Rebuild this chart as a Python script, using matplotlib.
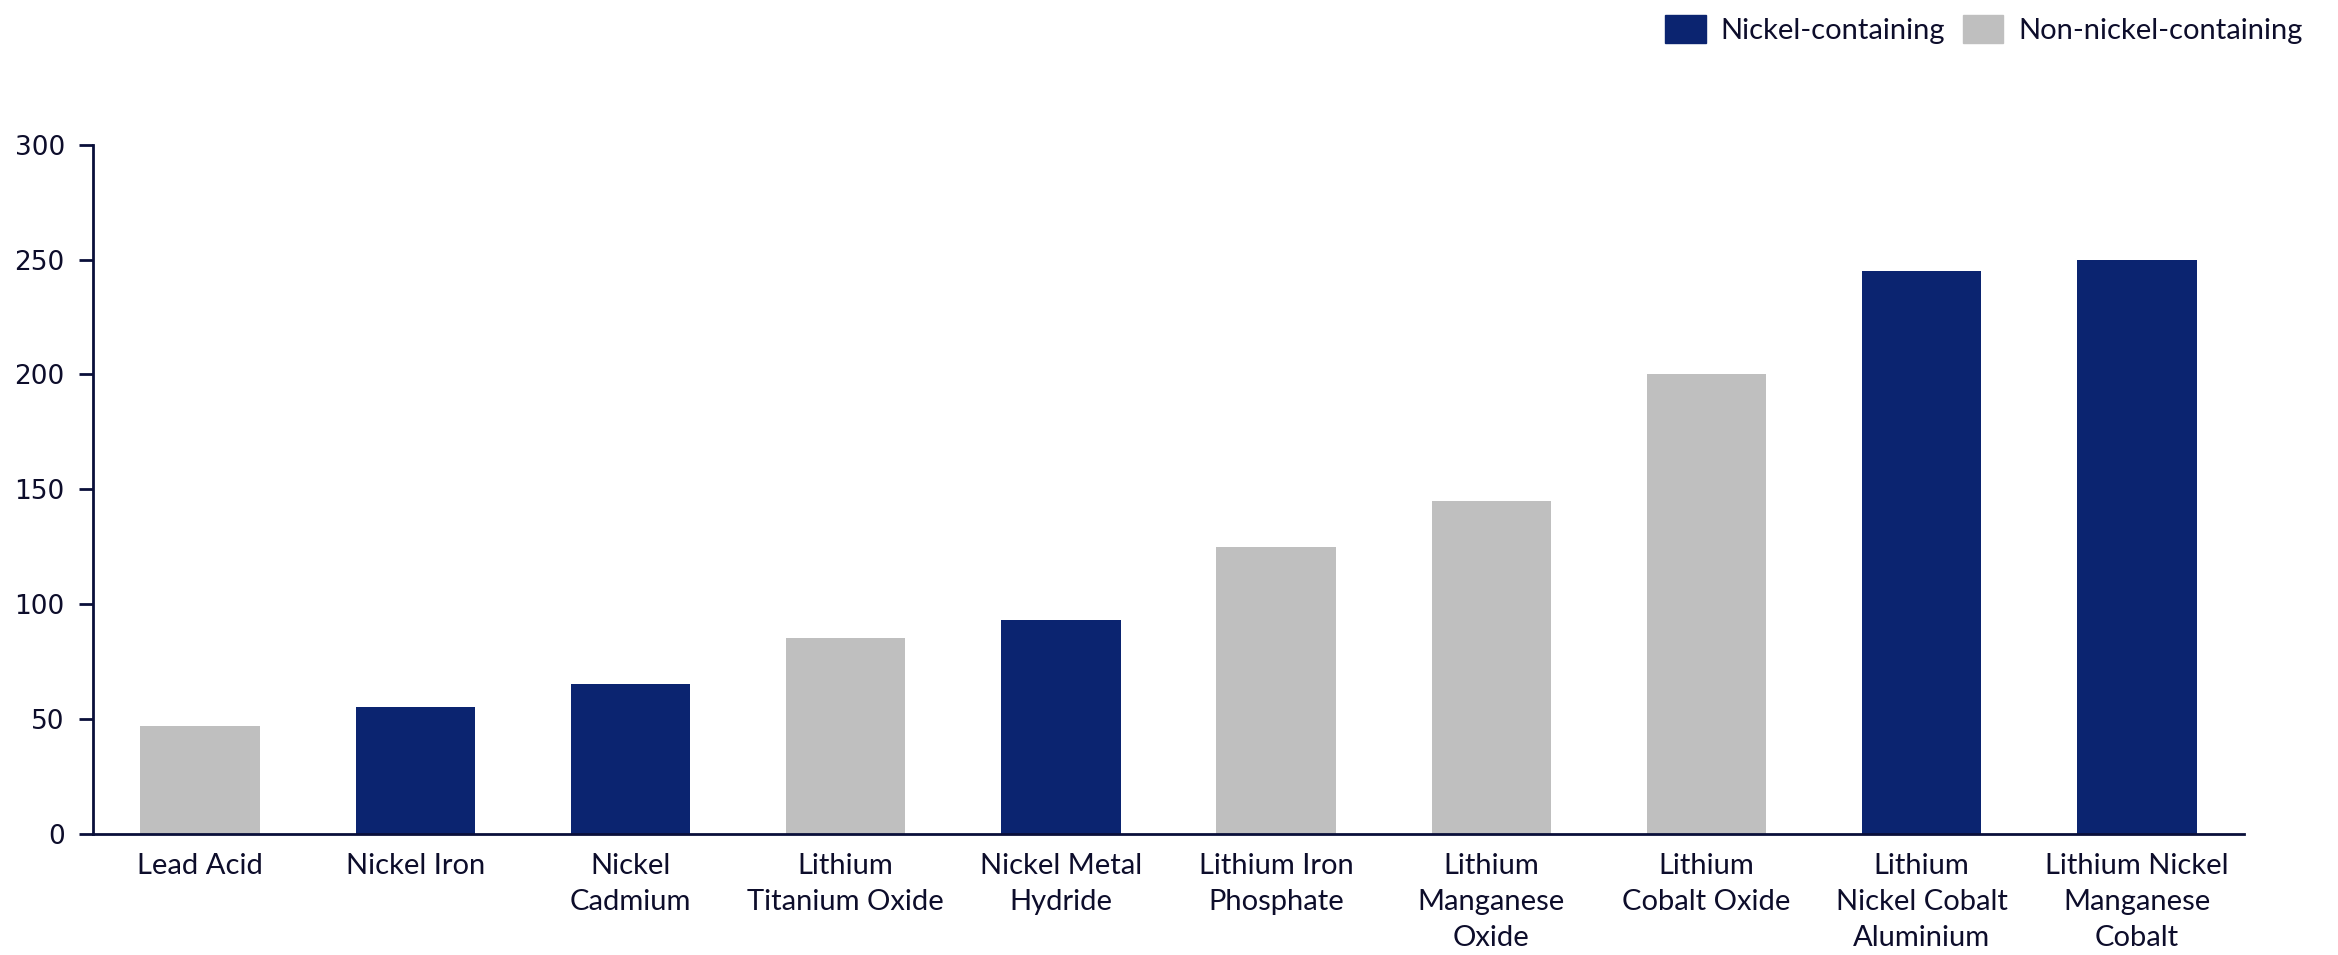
import matplotlib
matplotlib.use("Agg")
import matplotlib.pyplot as plt
from matplotlib.patches import Patch

categories = [
    "Lead Acid", "Nickel Iron", "Nickel\nCadmium", "Lithium\nTitanium Oxide",
    "Nickel Metal\nHydride", "Lithium Iron\nPhosphate", "Lithium\nManganese\nOxide",
    "Lithium\nCobalt Oxide", "Lithium\nNickel Cobalt\nAluminium",
    "Lithium Nickel\nManganese\nCobalt",
]
values = [47, 55, 65, 85, 93, 125, 145, 200, 245, 250]
has_nickel = [False, True, True, False, True, False, False, False, True, True]

NAVY = "#0B2470"
GREY = "#BFBFBF"
AXIS = "#0A0F3A"
TEXT = "#0D0D2B"

label_font = ["Lato", "DejaVu Sans"]

fig = plt.figure(figsize=(23.38, 9.55), dpi=100)
ax = fig.add_axes([0.0396, 0.1272, 0.9204, 0.721])

colors = [NAVY if n else GREY for n in has_nickel]
ax.bar(range(len(values)), values, width=0.555, color=colors)

ax.set_xlim(-0.5, len(values) - 0.5)
ax.set_ylim(0, 300)
ax.set_yticks(range(0, 301, 50))
ax.set_xticks(range(len(values)))
ax.set_xticklabels(categories, family=label_font, fontsize=21, color=TEXT,
                   linespacing=1.47, va="top")
for t in ax.get_yticklabels():
    t.set_fontsize(19)
    t.set_color(TEXT)

for s in ["top", "right"]:
    ax.spines[s].set_visible(False)
for s in ["left", "bottom"]:
    ax.spines[s].set_color(AXIS)
    ax.spines[s].set_linewidth(2)
ax.tick_params(axis="y", length=10, width=2, color=AXIS, pad=10)
ax.tick_params(axis="x", length=0, pad=14)

handles = [Patch(color=NAVY, label="Nickel-containing"),
           Patch(color=GREY, label="Non-nickel-containing")]
fig.legend(handles=handles, loc="upper right", bbox_to_anchor=(0.996, 1.012),
           ncol=2, frameon=False, prop={"family": label_font, "size": 21},
           handlelength=1.4, handleheight=1.1, handletextpad=0.5,
           columnspacing=0.6, labelcolor=TEXT)

fig.savefig("out.png", dpi=100)
